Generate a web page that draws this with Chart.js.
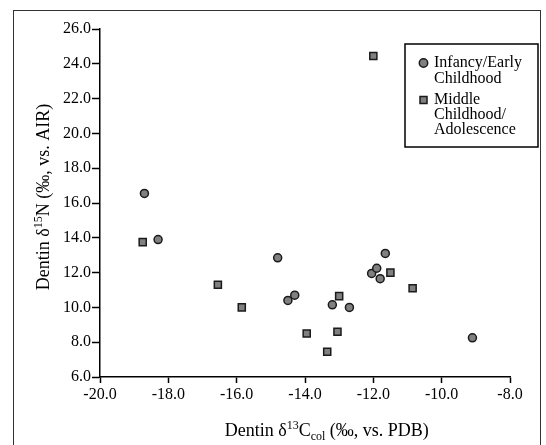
<!DOCTYPE html>
<html>
  <head>
    <title>Dentin isotopes</title>
    <script src="https://cdn.jsdelivr.net/npm/chart.js"></script>
    <style>
      body { margin: 0; overflow: hidden; background: #fff; }
      #frame { position: absolute; left: 13px; top: 10px; width: 526px; height: 460px; border: 1.5px solid #333; }
      #isoChart { position: absolute; left: 0; top: 0; }
    </style>
  </head>
  <body>
    <div id="frame"></div>
    <canvas id="isoChart" width="546" height="445"></canvas>

    <script>
      // dentin d13C / d15N values
      const infancyC = [-18.7, -18.3, -14.8, -14.5, -14.3, -13.2, -12.7, -12.05, -11.9, -11.8, -11.65, -9.1];
      const infancyN = [16.55, 13.9, 12.85, 10.4, 10.7, 10.15, 10.0, 11.95, 12.25, 11.65, 13.1, 8.25];
      const middleC = [-12.0, -18.75, -16.55, -15.85, -13.95, -13.35, -13.0, -13.05, -11.5, -10.85];
      const middleN = [24.45, 13.75, 11.3, 10.0, 8.5, 7.45, 10.65, 8.6, 12.0, 11.1];
      const xRange = [-20, -8];
      const yRange = [6, 26];
      const legendLabels = [['Infancy/Early', 'Childhood'], ['Middle', 'Childhood/', 'Adolescence']];

      const serif = '"Liberation Serif", "Times New Roman", serif';
      const fill = '#808080';
      const edge = '#1a1a1a';

      const toPoints = (xs, ys) => xs.map((x, i) => ({ x: x, y: ys[i] }));

      // draws a run of text pieces (with super/subscripts) centred on x
      function richText(ctx, parts, x, y) {
        let total = 0;
        parts.forEach(p => {
          ctx.font = p.size + 'px ' + serif;
          p.w = ctx.measureText(p.t).width;
          total += p.w;
        });
        let cx = x - total / 2;
        ctx.textBaseline = 'alphabetic';
        ctx.textAlign = 'left';
        parts.forEach(p => {
          ctx.font = p.size + 'px ' + serif;
          ctx.fillText(p.t, cx, y + (p.dy || 0));
          cx += p.w;
        });
      }

      const extras = {
        id: 'extras',
        afterDraw(chart) {
          const ctx = chart.ctx;
          const area = chart.chartArea;
          ctx.save();
          ctx.fillStyle = '#000';

          // x axis title
          richText(ctx, [
            { t: 'Dentin δ', size: 18 },
            { t: '13', size: 12, dy: -7 },
            { t: 'C', size: 18 },
            { t: 'col', size: 12, dy: 4 },
            { t: ' (‰, vs. PDB)', size: 18 }
          ], area.left + (area.right - area.left) * 0.553, 436);

          // y axis title
          ctx.save();
          ctx.translate(49, (area.top + area.bottom) / 2 - 6);
          ctx.rotate(-Math.PI / 2);
          richText(ctx, [
            { t: 'Dentin δ', size: 18 },
            { t: '15', size: 12, dy: -7 },
            { t: 'N (‰, vs. AIR)', size: 18 }
          ], 0, 0);
          ctx.restore();

          // legend box
          const lx = 405, ly = 44, lw = 133, lh = 103;
          ctx.lineWidth = 1.5;
          ctx.strokeStyle = '#000';
          ctx.fillStyle = '#fff';
          ctx.fillRect(lx, ly, lw, lh);
          ctx.strokeRect(lx, ly, lw, lh);

          ctx.fillStyle = fill;
          ctx.strokeStyle = edge;
          ctx.beginPath();
          ctx.arc(lx + 18.5, ly + 19, 4.2, 0, Math.PI * 2);
          ctx.fill();
          ctx.stroke();
          ctx.fillRect(lx + 15, ly + 52.5, 7, 7);
          ctx.strokeRect(lx + 15, ly + 52.5, 7, 7);

          ctx.fillStyle = '#000';
          ctx.font = '16px ' + serif;
          ctx.textAlign = 'left';
          ctx.textBaseline = 'alphabetic';
          legendLabels[0].forEach((s, i) => ctx.fillText(s, lx + 29, ly + 23 + i * 15.6));
          legendLabels[1].forEach((s, i) => ctx.fillText(s, lx + 29, ly + 59.5 + i * 15.4));
          ctx.restore();
        }
      };

      const tickFont = { family: serif, size: 16 };

      new Chart(document.getElementById('isoChart'), {
        type: 'scatter',
        data: {
          datasets: [{
            label: 'Infancy/Early Childhood',
            data: toPoints(infancyC, infancyN),
            pointStyle: 'circle',
            pointRadius: 4,
            backgroundColor: fill,
            borderColor: edge,
            borderWidth: 1.5
          }, {
            label: 'Middle Childhood/Adolescence',
            data: toPoints(middleC, middleN),
            pointStyle: 'rect',
            pointRadius: 5,
            backgroundColor: fill,
            borderColor: edge,
            borderWidth: 1.5
          }]
        },
        options: {
          responsive: false,
          animation: false,
          layout: { padding: { left: 0, top: 29, right: 36, bottom: 0 } },
          plugins: { legend: { display: false }, tooltip: { enabled: false } },
          scales: {
            x: {
              type: 'linear',
              min: xRange[0],
              max: xRange[1],
              afterFit: s => { s.height = 68; },
              border: { display: true, color: '#000', width: 1.5 },
              grid: { drawOnChartArea: false, drawTicks: true, tickLength: 6, tickColor: '#000', tickWidth: 1.5 },
              ticks: { stepSize: 2, color: '#000', font: tickFont, padding: 2, maxRotation: 0,
                       callback: v => v.toFixed(1) }
            },
            y: {
              type: 'linear',
              min: yRange[0],
              max: yRange[1],
              afterFit: s => { s.width = 100; },
              border: { display: true, color: '#000', width: 1.5 },
              grid: { drawOnChartArea: false, drawTicks: true, tickLength: 8, tickColor: '#000', tickWidth: 1.5 },
              ticks: { stepSize: 2, color: '#000', font: tickFont, padding: 1,
                       callback: v => v.toFixed(1) }
            }
          }
        },
        plugins: [extras]
      });
    </script>
  </body>
</html>
